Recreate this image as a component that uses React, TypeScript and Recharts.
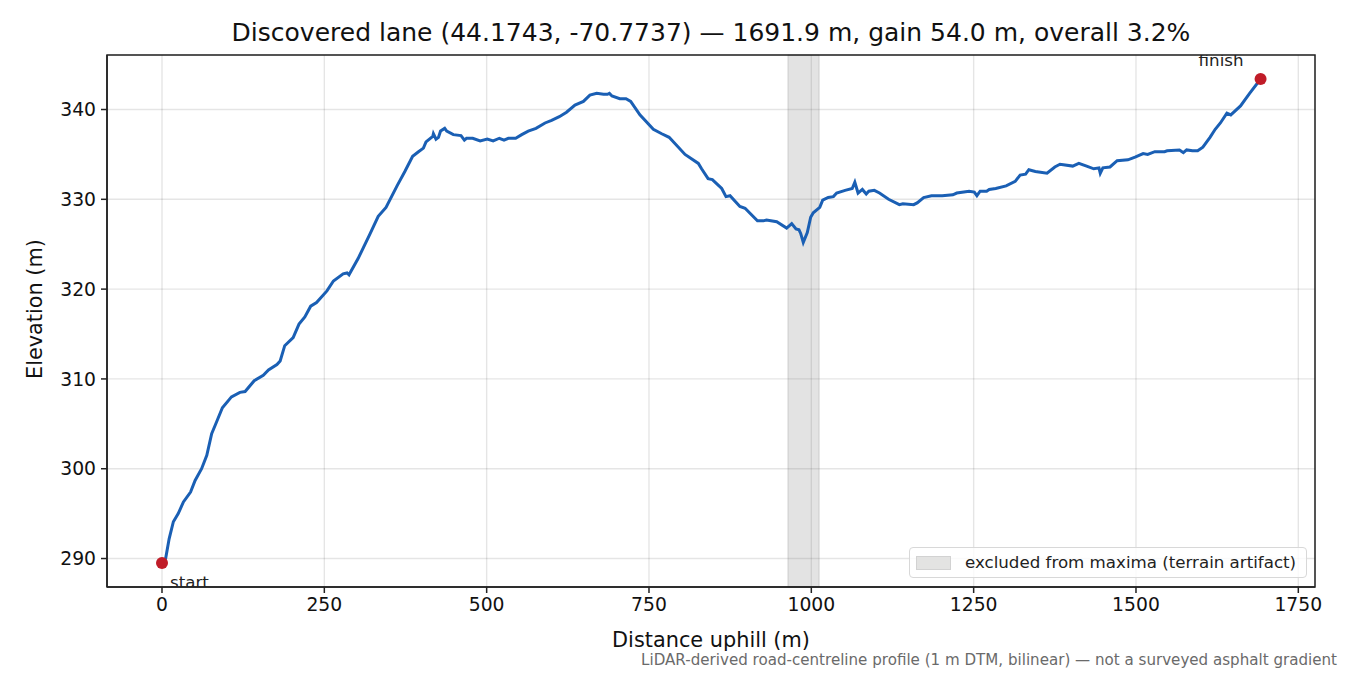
import React from 'react';
import {
  ComposedChart, Line, Scatter, XAxis, YAxis, CartesianGrid, ReferenceArea, Legend,
} from 'recharts';

const FONT = '"DejaVu Sans", sans-serif';

const distance = [
  0, 5.6, 11, 17.5, 25, 33, 44, 51, 61, 69, 76.5, 84, 93, 107, 120, 128, 142, 156, 164, 177, 182, 189,
  202, 211, 220, 229, 238, 254, 264, 279, 285, 288, 302, 320, 333, 345, 362, 374, 386, 395, 402.6, 406.6,
  417, 418, 422, 425.8, 429, 435.4, 438.5, 448.7, 460.5, 465.7, 469, 478.5, 490, 501, 510, 519.6, 526.7,
  533.4, 544.7, 554, 564, 576, 589.9, 600, 611.9, 623, 636, 649, 659, 669.5, 680, 686, 689, 693, 705,
  714.6, 721.8, 736, 756.7, 769.6, 781, 805.5, 826, 831, 841, 847.6, 862, 868.6, 874.8, 890, 898, 917,
  926, 931, 946.7, 962, 969.8, 976.4, 981, 983.6, 987.6, 993.8, 999, 1003, 1013, 1017.5, 1026, 1034,
  1039, 1052, 1063, 1067, 1072, 1078.6, 1084.6, 1088.5, 1097, 1105, 1119, 1135.6, 1141, 1157.6, 1163,
  1173, 1185, 1201.6, 1218, 1224, 1243, 1251, 1255, 1260, 1270, 1274, 1284, 1300, 1314, 1321.6, 1330,
  1335, 1345, 1363, 1375, 1383, 1402.6, 1412, 1424, 1435, 1443, 1445, 1449, 1460, 1471, 1487.6, 1498.6,
  1511, 1518, 1529, 1544, 1548, 1567, 1573, 1578, 1587, 1595, 1603, 1614, 1622, 1630, 1640, 1646, 1661,
  1675, 1691.9,
];

const elevation = [
  289.5, 290, 292.2, 294.1, 295, 296.3, 297.4, 298.7, 300, 301.5, 303.9, 305.2, 306.8, 308, 308.5, 308.6,
  309.8, 310.4, 311, 311.6, 312, 313.7, 314.6, 316.1, 316.9, 318.1, 318.5, 319.8, 320.9, 321.7, 321.8,
  321.6, 323.4, 326.1, 328.1, 329.1, 331.5, 333.1, 334.8, 335.3, 335.7, 336.4, 337, 337.3, 336.7, 336.9,
  337.6, 337.9, 337.6, 337.2, 337.1, 336.6, 336.8, 336.8, 336.5, 336.7, 336.5, 336.8, 336.6, 336.8,
  336.8, 337.2, 337.6, 337.9, 338.5, 338.8, 339.2, 339.7, 340.5, 340.9, 341.6, 341.8, 341.7, 341.7,
  341.8, 341.5, 341.2, 341.2, 340.9, 339.4, 337.8, 337.3, 336.9, 335, 334, 333.4, 332.3, 332.2, 331.2,
  330.3, 330.4, 329.2, 329, 327.6, 327.6, 327.7, 327.5, 326.8, 327.3, 326.7, 326.6, 326.2, 325.2, 326.3,
  328, 328.5, 329.1, 329.9, 330.2, 330.3, 330.7, 331, 331.2, 331.9, 330.7, 331.1, 330.6, 330.9, 331,
  330.7, 330, 329.4, 329.5, 329.4, 329.6, 330.2, 330.4, 330.4, 330.5, 330.7, 330.9, 330.8, 330.4, 330.9,
  330.9, 331.1, 331.2, 331.5, 332, 332.7, 332.8, 333.3, 333.1, 332.9, 333.6, 333.9, 333.7, 334, 333.7,
  333.4, 333.5, 332.9, 333.5, 333.6, 334.3, 334.4, 334.7, 335.1, 335, 335.3, 335.3, 335.4, 335.5, 335.2,
  335.5, 335.4, 335.4, 335.8, 336.9, 337.8, 338.5, 339.6, 339.4, 340.4, 341.8, 343.4,
];

const endpointNames = ['start', 'finish'];
const endpointDistance = [0, 1691.9];
const endpointElevation = [289.5, 343.4];

const xTicks = [0, 250, 500, 750, 1000, 1250, 1500, 1750];
const yTicks = [290, 300, 310, 320, 330, 340];
const xDomain = [-84.7, 1775.7];
const yDomain = [286.83, 346.07];
const excludedRange = [964, 1012];

const profile = distance.map((d, i) => ({ distance: d, elevation: elevation[i] }));
const endpoints = endpointNames.map((name, i) => ({
  name, distance: endpointDistance[i], elevation: endpointElevation[i],
}));

const AXIS = '#222222';
const tickStyle = { fill: '#111111', fontSize: 18.75, fontFamily: FONT };

const EndpointMark = (props: any) => {
  const { cx, cy, payload } = props;
  const isStart = payload.name === 'start';
  return (
    <g>
      <circle cx={cx} cy={cy} r={6} fill="#c01c28" />
      <text
        x={isStart ? cx + 8 : cx - 62}
        y={isStart ? cy + 25 : cy - 13}
        fontSize={16.67}
        fontFamily={FONT}
        fill="#222222"
      >
        {payload.name}
      </text>
    </g>
  );
};

const ExcludedLegend = () => (
  <div
    style={{
      display: 'flex', alignItems: 'center', boxSizing: 'border-box', width: 398, height: 31,
      background: 'rgba(255,255,255,0.8)', border: '1.5px solid #d8d8d8', borderRadius: 4,
      fontFamily: FONT, fontSize: 16.67, color: '#222222', whiteSpace: 'nowrap',
    }}
  >
    <span
      style={{
        display: 'inline-block', width: 33, height: 12, marginLeft: 6, marginRight: 14,
        background: '#e3e3e2', border: '1px solid #d2d2d2', flex: 'none',
      }}
    />
    excluded from maxima (terrain artifact)
  </div>
);

export default function App() {
  return (
    <div style={{ position: 'absolute', left: 0, top: 0, width: 1350, height: 675, background: '#fff' }}>
      <div
        style={{
          position: 'absolute', left: 0, top: 19, width: 1422, textAlign: 'center',
          fontFamily: FONT, fontSize: 25, lineHeight: '28px', color: '#111', zIndex: 2, whiteSpace: 'nowrap',
        }}
      >
        Discovered lane (44.1743, -70.7737) — 1691.9 m, gain 54.0 m, overall 3.2%
      </div>
      <ComposedChart
        width={1350}
        height={675}
        data={profile}
        margin={{ top: 55, right: 35, bottom: 0, left: 0 }}
      >
        <CartesianGrid stroke="#000" strokeOpacity={0.1} strokeWidth={1.4} />
        <XAxis
          dataKey="distance"
          type="number"
          domain={xDomain}
          ticks={xTicks}
          allowDataOverflow
          height={88}
          stroke={AXIS}
          strokeWidth={1.5}
          tick={tickStyle}
          tickSize={6}
          tickMargin={5}
          interval={0}
          label={{
            value: 'Distance uphill (m)', position: 'insideBottom', offset: 28,
            style: { fill: '#111111', fontSize: 20.83, fontFamily: FONT },
          }}
        />
        <YAxis
          type="number"
          domain={yDomain}
          ticks={yTicks}
          allowDataOverflow
          width={107}
          stroke={AXIS}
          strokeWidth={1.5}
          tick={tickStyle}
          tickSize={6}
          tickMargin={5}
          interval={0}
          label={{
            value: 'Elevation (m)', angle: -90, position: 'insideLeft', offset: 35, dy: 58,
            style: { fill: '#111111', fontSize: 20.83, fontFamily: FONT },
          }}
        />
        <ReferenceArea
          x1={excludedRange[0]}
          x2={excludedRange[1]}
          fill="#737373"
          fillOpacity={0.2}
          stroke="#737373"
          strokeOpacity={0.25}
        />
        <ReferenceArea
          x1={xDomain[0]}
          x2={xDomain[1]}
          y1={yDomain[0]}
          y2={yDomain[1]}
          fill="none"
          stroke={AXIS}
          strokeWidth={1.5}
        />
        <Line
          dataKey="elevation"
          type="linear"
          stroke="#1a5fb4"
          strokeWidth={3}
          dot={false}
          activeDot={false}
          isAnimationActive={false}
          legendType="none"
        />
        <Scatter
          data={endpoints}
          dataKey="elevation"
          shape={EndpointMark}
          isAnimationActive={false}
          legendType="none"
        />
        <Legend
          layout="horizontal"
          verticalAlign="middle"
          align="center"
          content={ExcludedLegend}
          wrapperStyle={{ position: 'absolute', left: 909, top: 547, width: 398, height: 31 }}
        />
      </ComposedChart>
      <div
        style={{
          position: 'absolute', right: 13, top: 651, fontFamily: FONT, fontSize: 15.1, lineHeight: '18px',
          color: '#6a6a6a', whiteSpace: 'nowrap',
        }}
      >
        LiDAR-derived road-centreline profile (1 m DTM, bilinear) — not a surveyed asphalt gradient
      </div>
    </div>
  );
}
